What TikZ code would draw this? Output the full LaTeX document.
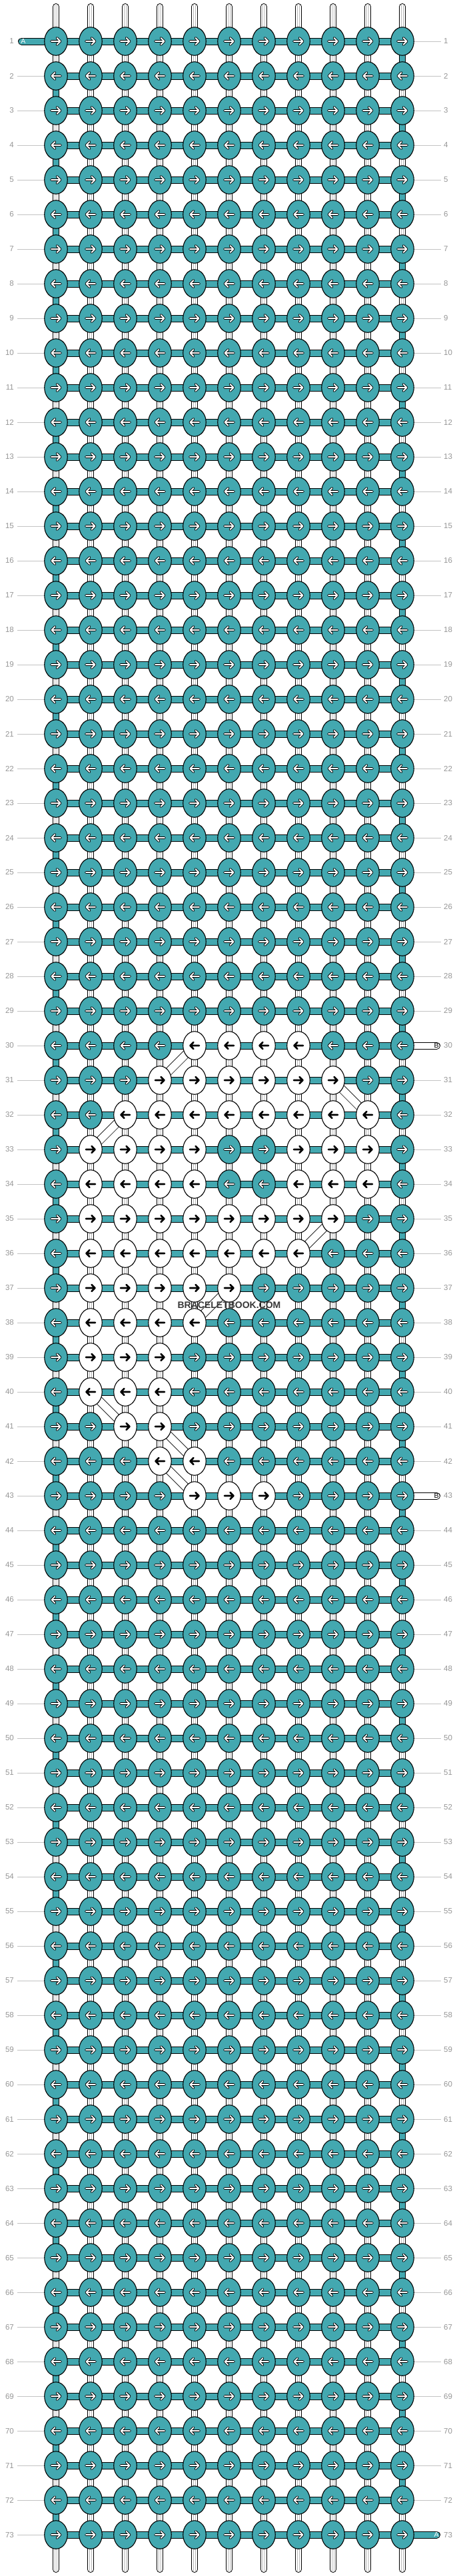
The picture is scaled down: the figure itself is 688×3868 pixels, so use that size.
\documentclass[tikz,border=0pt]{standalone}
\usepackage{fontspec}
\setmainfont{Liberation Sans}
\usetikzlibrary{shapes.geometric}
\definecolor{tealk}{RGB}{67,168,176}
\definecolor{lblgray}{RGB}{150,150,150}
\definecolor{linegray}{RGB}{195,195,195}
\definecolor{strgray}{RGB}{185,185,185}
\newcommand\setwhite[2]{\foreach \cc in {#2}{\expandafter\gdef\csname wk-#1-\cc\endcsname{}}}
\setwhite{30}{4,...,7}
\setwhite{31}{3,...,8}
\setwhite{32}{2,...,9}
\setwhite{33}{1,2,3,4,7,8,9}
\setwhite{34}{1,2,3,4,7,8,9}
\setwhite{35}{1,...,8}
\setwhite{36}{1,...,7}
\setwhite{37}{1,...,5}
\setwhite{38}{1,...,4}
\setwhite{39}{1,2,3}
\setwhite{40}{1,2,3}
\setwhite{41}{2,3}
\setwhite{42}{3,4}
\setwhite{43}{4,5,6}
\begin{document}
\begin{tikzpicture}[x=1pt,y=-1pt,
  knot/.style={ellipse, draw=black, line width=1.1pt, minimum width=34.5pt, minimum height=42.5pt, inner sep=0pt},
  bar/.style={draw=black, line width=1pt, double=tealk, double distance=9pt},
  tstr/.style={draw=black, line width=1pt, double=tealk, double distance=8pt},
  wstr/.style={draw=black, line width=1pt, double=white, double distance=8pt},
  gline/.style={draw=strgray, line width=0.6pt},
  lline/.style={draw=linegray, line width=1pt},
  diag/.style={draw=black, line width=0.7pt},
  warrO/.style={draw=black, line width=3.6pt, line cap=round, line join=round},
  warrI/.style={draw=white, line width=1.8pt, line cap=round, line join=round},
  barr/.style={draw=black, line width=2.7pt, line cap=round, line join=round},
  lbl/.style={font=\fontsize{11.5}{12}\selectfont, text=lblgray, inner sep=0pt},
  slbl/.style={font=\fontsize{10.5}{11}\selectfont, inner sep=0pt}]
\useasboundingbox (0,0) rectangle (688,3868);
\fill[white] (0,0) rectangle (688,3868);
% pass 1: knot positions
\foreach \ri in {1,...,73}{
  \pgfmathtruncatemacro\yy{62+52*(\ri-1)}
  \foreach \ci in {0,...,10}{
    \pgfmathtruncatemacro\xx{84+52*\ci}
    \coordinate (p-\ri-\ci) at (\xx,\yy);
  }
}
% pass 2: strings and bars
\foreach \ri in {1,...,73}{
  \pgfmathtruncatemacro\yy{62+52*(\ri-1)}
  \foreach \ci in {0,...,10}{
    \pgfmathtruncatemacro\xx{84+52*\ci}
    \ifnum\ci>0
      \pgfmathtruncatemacro\cp{\ci-1}
      \draw[bar] (p-\ri-\cp) -- (p-\ri-\ci);
    \fi
    \ifnum\ri>1
      \pgfmathtruncatemacro\rp{\ri-1}
      \def\vt{0}
      \ifodd\rp \ifnum\ci=10 \def\vt{1}\fi \else \ifnum\ci=0 \def\vt{1}\fi \fi
      \ifnum\vt=1
        \draw[tstr] (p-\rp-\ci) -- (p-\ri-\ci);
      \else
        \draw[wstr] (p-\rp-\ci) -- (p-\ri-\ci);
        \draw[gline] ([shift={(-1.7,0)}]p-\rp-\ci) -- ([shift={(-1.7,0)}]p-\ri-\ci);
        \draw[gline] ([shift={(1.7,0)}]p-\rp-\ci) -- ([shift={(1.7,0)}]p-\ri-\ci);
      \fi
    \fi
    \ifnum\ri=1
      \coordinate (t-\ci) at (\xx,10);
      \draw[wstr, line cap=round] (t-\ci) -- (p-1-\ci);
      \draw[gline] ([shift={(-1.7,-3)}]t-\ci) -- ([shift={(-1.7,0)}]p-1-\ci);
      \draw[gline] ([shift={(1.7,-3)}]t-\ci) -- ([shift={(1.7,0)}]p-1-\ci);
    \fi
    \ifnum\ri=73
      \coordinate (b-\ci) at (\xx,3858);
      \draw[wstr, line cap=round] (p-73-\ci) -- (b-\ci);
      \draw[gline] ([shift={(-1.7,0)}]p-73-\ci) -- ([shift={(-1.7,3)}]b-\ci);
      \draw[gline] ([shift={(1.7,0)}]p-73-\ci) -- ([shift={(1.7,3)}]b-\ci);
    \fi
  }
  \ifnum\ri>1
    \coordinate (lc-\ri) at (26,\yy);
    \draw[lline] (lc-\ri) -- (p-\ri-0);
  \fi
  \def\rs{1}
  \ifnum\ri=30 \def\rs{0}\fi
  \ifnum\ri=43 \def\rs{0}\fi
  \ifnum\ri=73 \def\rs{0}\fi
  \ifnum\rs=1
    \coordinate (rc-\ri) at (662,\yy);
    \draw[lline] (p-\ri-10) -- (rc-\ri);
  \fi
}
% diagonal string marks
\foreach \ra/\ca/\rb/\cb/\sx/\sy in {30/4/31/3/4.24/4.24, 31/8/32/9/4.24/-4.24, 32/2/33/1/4.24/4.24, 35/8/36/7/4.24/4.24, 37/5/38/4/4.24/4.24, 40/1/41/2/4.24/-4.24, 41/3/42/4/4.24/-4.24, 42/3/43/4/4.24/-4.24}{
  \draw[diag] ([shift={(\sx,\sy)}]p-\ra-\ca) -- ([shift={(\sx,\sy)}]p-\rb-\cb);
  \draw[diag] ([shift={(-\sx,-\sy)}]p-\ra-\ca) -- ([shift={(-\sx,-\sy)}]p-\rb-\cb);
}
% end stubs
\coordinate (sA1) at (32.5,62);
\draw[bar, line cap=round] (sA1) -- (p-1-0);
\coordinate (sA2) at (655.5,3806);
\draw[bar, line cap=round] (p-73-10) -- (sA2);
\coordinate (sB1) at (655.5,1570);
\draw[wstr, double distance=9pt, line cap=round] (p-30-10) -- (sB1);
\coordinate (sB2) at (655.5,2246);
\draw[wstr, double distance=9pt, line cap=round] (p-43-10) -- (sB2);
% pass 3: knots
\foreach \ri in {1,...,73}{
  \foreach \ci in {0,...,10}{
    \ifcsname wk-\ri-\ci\endcsname\def\kfill{white}\def\kw{1}\else\def\kfill{tealk}\def\kw{0}\fi
    \ifodd\ri\def\asc{1}\else\def\asc{-1}\fi
    \node[knot, fill=\kfill] (k-\ri-\ci) at (p-\ri-\ci) {};
    \ifnum\kw=1
      \draw[barr, shift={(k-\ri-\ci.center)}, xscale=\asc] (-7,0) -- (6.5,0) (1.5,-5) -- (6.5,0) -- (1.5,5);
    \else
      \draw[warrO, shift={(k-\ri-\ci.center)}, xscale=\asc] (-7,0) -- (6.5,0) (1.5,-5) -- (6.5,0) -- (1.5,5);
      \draw[warrI, shift={(k-\ri-\ci.center)}, xscale=\asc] (-7,0) -- (6.5,0) (1.5,-5) -- (6.5,0) -- (1.5,5);
    \fi
  }
  \pgfmathtruncatemacro\yy{62+52*(\ri-1)}
  \node[lbl, anchor=east] (ll-\ri) at (21,\yy) {\ri};
  \node[lbl, anchor=west] (rl-\ri) at (666,\yy) {\ri};
}
\node[slbl, text=white] (tA1) at (35,62) {A};
\node[slbl, text=white] (tA2) at (655,3806) {A};
\node[slbl, text=black] (tB1) at (655,1570) {B};
\node[slbl, text=black] (tB2) at (655,2246) {B};
\node[font=\bfseries\fontsize{14}{14}\selectfont, text=black!78, inner sep=0pt] (wm) at (344,1960) {BRACELETBOOK.COM};
\end{tikzpicture}
\end{document}
